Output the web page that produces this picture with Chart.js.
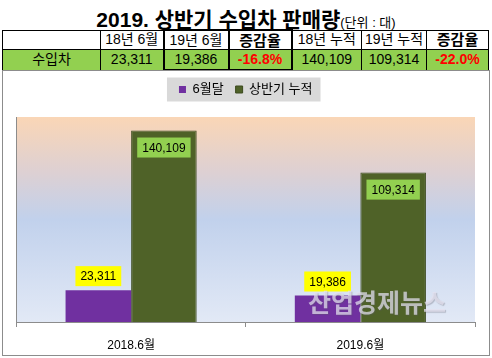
<!DOCTYPE html>
<html>
<head>
<meta charset="utf-8">
<script src="https://cdn.jsdelivr.net/npm/chart.js@4/dist/chart.umd.min.js"></script>
<style>
  body { margin: 0; width: 492px; height: 358px; background: #fff; position: relative; overflow: hidden;
         font-family: "Liberation Sans", "Noto Sans CJK KR", sans-serif; }
  #title { position: absolute; left: 0; top: 3px; width: 492px; text-align: center; white-space: nowrap; }
  #title b { font-size: 21px; }
  #title span { font-size: 13px; }
  #tbl { position: absolute; left: 2px; top: 29px; border-collapse: collapse; table-layout: fixed; }
  #tbl td { border: 1px solid #000; padding: 0; text-align: center; font-size: 14px; line-height: 17px; white-space: nowrap; }
  #tbl tr.r1 td { height: 18px; background: #fff; }
  #tbl tr.r2 td { height: 19px; background: #92d050; }
  #tbl td.thk { border-left: 2px solid #000; border-right: 2px solid #000; }
  #tbl tr.r1 td.thk { border-top: 2px solid #000; }
  #tbl tr.r2 td.thk { border-bottom: 2px solid #000; }
  #tbl td.b { font-weight: bold; font-size: 15px; }
  #tbl td.red { color: #ff0000; font-weight: bold; }
  #box { position: absolute; left: 2px; top: 70px; width: 486px; height: 284px; border: 1px solid #8c8c8c; }
  #box canvas { display: block; }
</style>
</head>
<body>
<div id="title"><b>2019. 상반기 수입차 판매량</b><span>(단위 : 대)</span></div>
<table id="tbl"></table>
<div id="box"><canvas id="salesChart" width="486" height="284"></canvas></div>
<script>
// 표 데이터
const tableHeads = ['', '18년 6월', '19년 6월', '증감율', '18년 누적', '19년 누적', '증감율'];
const tableRow = ['수입차', '23,311', '19,386', '-16.8%', '140,109', '109,314', '-22.0%'];
const colWidths = [98, 63, 65, 63, 70, 65, 62];

// 차트 데이터
const categories = ['2018.6월', '2019.6월'];
const juneValues = [23311, 19386];
const halfValues = [140109, 109314];
const seriesNames = ['6월달', '상반기 누적'];

document.addEventListener("DOMContentLoaded", function() {
    const tbl = document.getElementById('tbl');
    let html = '<colgroup>' + colWidths.map(w => '<col style="width:' + w + 'px">').join('') + '</colgroup>';
    html += '<tr class="r1">' + tableHeads.map((t, i) => {
        let cls = [];
        if (i === 2 || i === 3) cls.push('thk');
        if (i === 3 || i === 6) cls.push('b');
        return '<td class="' + cls.join(' ') + '">' + t + '</td>';
    }).join('') + '</tr>';
    html += '<tr class="r2">' + tableRow.map((t, i) => {
        let cls = [];
        if (i === 2 || i === 3) cls.push('thk');
        if (i === 3 || i === 6) cls.push('red');
        return '<td class="' + cls.join(' ') + '">' + t + '</td>';
    }).join('') + '</tr>';
    tbl.innerHTML = html;

    const font = '"Liberation Sans", "Noto Sans CJK KR", sans-serif';

    // 플롯 배경 그라데이션 + 범례 배경
    const bgPlugin = {
        id: 'bgPlugin',
        beforeDraw(chart) {
            const c = chart.ctx, a = chart.chartArea;
            const g = c.createLinearGradient(0, a.top, 0, a.bottom);
            g.addColorStop(0, '#fad6b6');
            g.addColorStop(0.27, '#ddd0d3');
            g.addColorStop(0.5, '#c1d1ec');
            g.addColorStop(1, '#e2e9f6');
            c.save();
            c.fillStyle = g;
            c.fillRect(a.left, a.top, a.right - a.left, a.bottom - a.top);
            const hb = chart.legend.legendHitBoxes;
            if (hb && hb.length) {
                const l = Math.min(...hb.map(h => h.left));
                const r = Math.max(...hb.map(h => h.left + h.width));
                const t = hb[0].top, h = hb[0].height;
                c.fillStyle = '#d9d9d9';
                c.fillRect(l - 12, t + h / 2 - 12, r - l + 20, 24);
            }
            c.restore();
        }
    };

    // 데이터 라벨 + 워터마크
    const labelPlugin = {
        id: 'labelPlugin',
        afterDatasetsDraw(chart) {
            const c = chart.ctx;
            c.save();
            c.font = '12px ' + font;
            c.textAlign = 'center';
            c.textBaseline = 'middle';
            chart.data.datasets.forEach((ds, di) => {
                chart.getDatasetMeta(di).data.forEach((bar, i) => {
                    const txt = ds.data[i].toLocaleString('en-US');
                    const w = c.measureText(txt).width + 10;
                    const cy = di === 0 ? bar.y - 14 : bar.y + 17;
                    c.fillStyle = di === 0 ? '#ffff00' : '#92d050';
                    c.fillRect(bar.x - w / 2, cy - 10, w, 20);
                    c.fillStyle = '#000';
                    c.fillText(txt, bar.x, cy + 1);
                });
            });
            c.restore();
        },
        afterDraw(chart) {
            const c = chart.ctx, a = chart.chartArea;
            c.save();
            c.font = 'bold 25px "Noto Sans CJK KR", sans-serif';
            c.textAlign = 'center';
            c.textBaseline = 'middle';
            c.shadowColor = 'rgba(90,90,100,0.45)';
            c.shadowOffsetX = 1;
            c.shadowOffsetY = 1;
            c.shadowBlur = 1;
            c.fillStyle = 'rgba(228,226,240,0.72)';
            c.fillText('산업경제뉴스', a.right - 98, a.bottom - 20);
            c.restore();
        }
    };

    const ctx = document.getElementById('salesChart');
    new Chart(ctx, {
        type: 'bar',
        data: {
            labels: categories,
            datasets: [{
                label: seriesNames[0],
                data: juneValues,
                backgroundColor: '#7030a0',
                borderWidth: 0
            }, {
                label: seriesNames[1],
                data: halfValues,
                backgroundColor: '#4f6228',
                borderColor: '#3c4a1e',
                borderWidth: 1
            }]
        },
        options: {
            responsive: false,
            animation: false,
            barPercentage: 1,
            categoryPercentage: 0.572,
            layout: { padding: { left: 13.5, right: 14, top: 0, bottom: 0 } },
            plugins: {
                legend: {
                    weight: 1000,
                    labels: { boxWidth: 7, boxHeight: 7, padding: 12, color: '#000', font: { family: font, size: 13 } }
                },
                subtitle: {
                    display: true, text: '', weight: 500,
                    font: { size: 10, lineHeight: 1 }, padding: { top: 0, bottom: 1 }
                },
                tooltip: { enabled: false }
            },
            scales: {
                y: {
                    min: 0, max: 150000,
                    ticks: { display: false },
                    grid: { display: false, drawTicks: false },
                    border: { display: true, color: '#8c8c8c' }
                },
                x: {
                    afterFit(scale) { scale.height = 33; },
                    grid: { display: true, drawOnChartArea: false, tickLength: 5, color: '#8c8c8c' },
                    border: { color: '#8c8c8c' },
                    ticks: { color: '#000', padding: 11, font: { family: font, size: 12 } }
                }
            }
        },
        plugins: [bgPlugin, labelPlugin]
    });
});
</script>
</body>
</html>
